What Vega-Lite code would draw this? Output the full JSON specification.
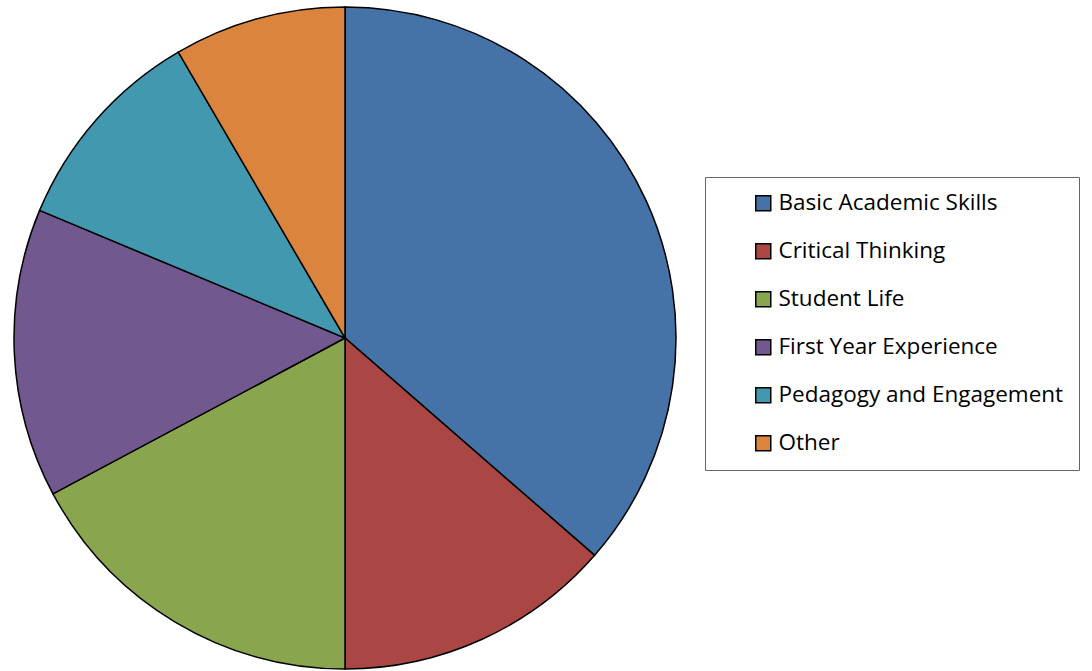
{
  "$schema": "https://vega.github.io/schema/vega-lite/v6.json",
  "width": 690,
  "height": 666,
  "padding": {"left": 0, "top": 5, "right": 402, "bottom": 0},
  "autosize": {"type": "none"},
  "background": "white",
  "config": {"view": {"stroke": null}},
  "data": {
    "values": [
      {"category": "Basic Academic Skills", "share": 36.4, "idx": 1},
      {"category": "Critical Thinking", "share": 13.6, "idx": 2},
      {"category": "Student Life", "share": 17.2, "idx": 3},
      {"category": "First Year Experience", "share": 14.1, "idx": 4},
      {"category": "Pedagogy and Engagement", "share": 10.3, "idx": 5},
      {"category": "Other", "share": 8.4, "idx": 6}
    ]
  },
  "mark": {"type": "arc", "outerRadius": 331, "stroke": "black", "strokeWidth": 1.5},
  "encoding": {
    "theta": {"field": "share", "type": "quantitative", "stack": true},
    "order": {"field": "idx", "type": "quantitative"},
    "color": {
      "field": "category",
      "type": "nominal",
      "scale": {
        "domain": ["Basic Academic Skills", "Critical Thinking", "Student Life", "First Year Experience", "Pedagogy and Engagement", "Other"],
        "range": ["#4572A7", "#AA4643", "#89A54E", "#71588F", "#4198AF", "#DB843D"]
      },
      "legend": {
        "title": null,
        "orient": "none",
        "legendX": 705,
        "legendY": 172,
        "direction": "vertical",
        "fillColor": "white",
        "strokeColor": "#666666",
        "padding": 15,
        "symbolOffset": 32,
        "symbolType": "square",
        "symbolSize": 225,
        "symbolStrokeColor": "black",
        "symbolStrokeWidth": 1.5,
        "labelFont": "Open Sans",
        "labelFontSize": 22.5,
        "labelColor": "black",
        "labelOffset": 4,
        "labelLimit": 400,
        "rowPadding": 25
      }
    }
  }
}
